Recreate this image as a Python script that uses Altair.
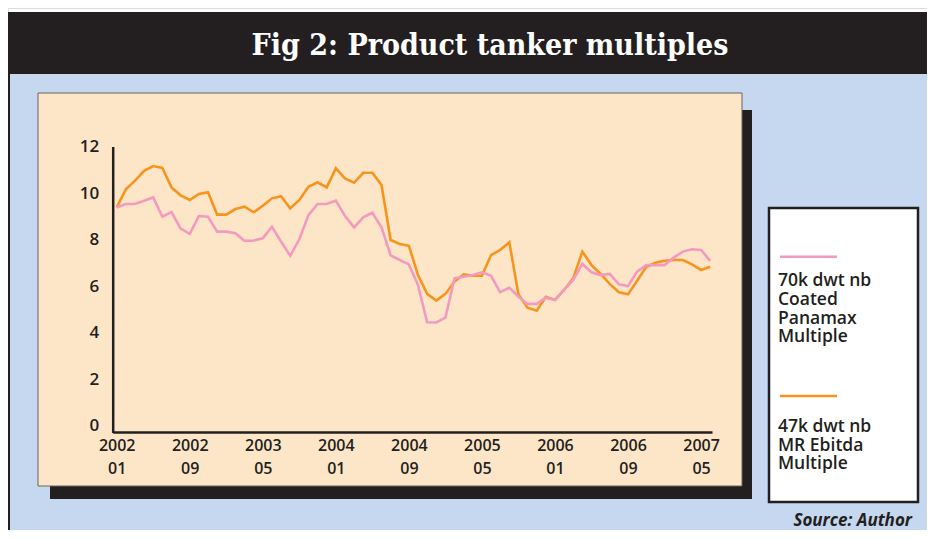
import json
import altair as alt
import pandas as pd

# ---------------- data ----------------
months = [f"{2002 + i // 12}-{i % 12 + 1:02d}" for i in range(66)]  # 2002-01 .. 2007-06

panamax = [9.38, 9.53, 9.53, 9.67, 9.81, 8.98, 9.18, 8.47, 8.24, 9.01,
           8.98, 8.34, 8.34, 8.27, 7.94, 7.96, 8.05, 8.55, 7.91, 7.30,
           8.01, 9.05, 9.53, 9.53, 9.67, 9.01, 8.52, 8.95, 9.15, 8.52,
           7.32, 7.12, 6.93, 6.04, 4.44, 4.43, 4.64, 6.33, 6.40, 6.47,
           6.59, 6.44, 5.73, 5.93, 5.54, 5.23, 5.23, 5.50, 5.40, 5.83,
           6.26, 6.95, 6.59, 6.47, 6.52, 6.07, 6.00, 6.62, 6.90, 6.90,
           6.90, 7.22, 7.48, 7.58, 7.55, 7.08]

mr_ebitda = [9.38, 10.16, 10.53, 10.95, 11.16, 11.08, 10.24, 9.90, 9.70, 9.96,
             10.03, 9.07, 9.07, 9.31, 9.41, 9.17, 9.45, 9.77, 9.86, 9.34,
             9.70, 10.27, 10.46, 10.24, 11.06, 10.63, 10.44, 10.87, 10.87, 10.34,
             7.98, 7.81, 7.73, 6.47, 5.66, 5.37, 5.66, 6.19, 6.50, 6.44,
             6.44, 7.33, 7.55, 7.88, 5.64, 5.07, 4.94, 5.54, 5.40, 5.83,
             6.33, 7.48, 6.90, 6.52, 6.09, 5.73, 5.64, 6.23, 6.83, 7.00,
             7.09, 7.12, 7.12, 6.93, 6.69, 6.83]

series_names = ["70k dwt nb Coated Panamax Multiple", "47k dwt nb MR Ebitda Multiple"]
series_labels = ["70k dwt nb\nCoated\nPanamax\nMultiple", "47k dwt nb\nMR Ebitda\nMultiple"]
series_colors = ["#F49AC1", "#F7941D"]

tick_values = [0, 8, 16, 24, 32, 40, 48, 56, 64]
tick_labels = [["2002", "01"], ["2002", "09"], ["2003", "05"], ["2004", "01"],
               ["2004", "09"], ["2005", "05"], ["2006", "01"], ["2006", "09"],
               ["2007", "05"]]
y_ticks = [0, 2, 4, 6, 8, 10, 12]

title_text = "Fig 2: Product tanker multiples"
source_text = "Source: Author"

# ---------------- tables ----------------
rows = []
for name, vals in zip(series_names, [panamax, mr_ebitda]):
    for i, (m, v) in enumerate(zip(months, vals)):
        rows.append({"idx": i, "month": m, "value": v, "series": name})
df = pd.DataFrame(rows)
legend_df = pd.DataFrame({"series": series_names, "label": series_labels})
dummy = pd.DataFrame({"k": [0]})

DARK = "#231f20"
FONT = "Open Sans"

x_scale = alt.Scale(domain=[-0.44, 65.2], range=[104.7, 704], nice=False, zero=False)
y_scale = alt.Scale(domain=[-0.3, 12], range=[424.5, 138.5], nice=False, zero=False)

label_expr = f"{json.dumps(tick_labels)}[indexof({json.dumps(tick_values)}, datum.value)]"


def box(x, x2, y, y2, fill, **kw):
    return alt.Chart(dummy).mark_rect(fill=fill, **kw).encode(
        x=alt.value(x), x2=alt.value(x2), y=alt.value(y), y2=alt.value(y2))


title_bar = box(0, 919, 4, 66, DARK)
blue_bg = box(0, 919, 66, 522, "#C5D8EF")
left_edge = box(0, 2, 66, 522, DARK)
shadow = box(42, 744, 102, 491, DARK)
panel = box(30, 734, 85, 478, "#FDE6C8", stroke="#6b625a", strokeWidth=1)
legend_box = box(761, 910, 200, 494, "white", stroke=DARK, strokeWidth=2.5)

title = alt.Chart(dummy).mark_text(
    text=title_text, font="DejaVu Serif Condensed", fontWeight="bold", fontSize=30,
    color="white", align="center", baseline="alphabetic"
).encode(x=alt.value(482), y=alt.value(47))

source = alt.Chart(dummy).mark_text(
    text=source_text, font=FONT, fontWeight="bold", fontStyle="italic", fontSize=17,
    color=DARK, align="right", baseline="alphabetic"
).encode(x=alt.value(904), y=alt.value(518))

legend_layers = []
for name, color, ly, ty in zip(series_names, series_colors, [248.7, 388], [278, 423.7]):
    legend_layers.append(
        alt.Chart(legend_df).transform_filter(alt.datum.series == name)
        .mark_rule(color=color, strokeWidth=2.5)
        .encode(x=alt.value(772), x2=alt.value(829), y=alt.value(ly))
    )
    legend_layers.append(
        alt.Chart(legend_df).transform_filter(alt.datum.series == name)
        .mark_text(font=FONT, fontWeight=600, fontSize=17.5, color=DARK, align="left",
                   baseline="alphabetic", lineBreak="\n", lineHeight=18.8)
        .encode(x=alt.value(770), y=alt.value(ty), text="label:N")
    )

x_axis = alt.Axis(values=tick_values, labelExpr=label_expr, title=None, grid=False,
                  ticks=False, tickSize=0, offset=-98, labelPadding=5, labelFlush=False,
                  labelFont=FONT, labelFontWeight=600, labelFontSize=16, labelColor=DARK,
                  labelLineHeight=23, labelBaseline="top",
                  domainColor=DARK, domainWidth=2.5, zindex=1)
y_axis = alt.Axis(values=y_ticks, title=None, grid=False, ticks=False, tickSize=0,
                  offset=-104.7, labelPadding=14, labelFont=FONT, labelFontWeight=600,
                  labelFontSize=17, labelColor=DARK, domainColor=DARK, domainWidth=2.5,
                  zindex=1)

line_layers = []
for name, color in [(series_names[1], series_colors[1]), (series_names[0], series_colors[0])]:
    line_layers.append(
        alt.Chart(df).transform_filter(alt.datum.series == name)
        .mark_line(color=color, strokeWidth=2.6, strokeJoin="miter")
        .encode(x=alt.X("idx:Q", scale=x_scale, axis=x_axis),
                y=alt.Y("value:Q", scale=y_scale, axis=y_axis))
    )

chart = alt.layer(
    title_bar, blue_bg, left_edge, shadow, panel, legend_box,
    *legend_layers, title, source, *line_layers
).properties(
    width=919, height=522, padding=0,
    autosize=alt.AutoSizeParams(type="none")
).configure_view(strokeWidth=0).configure(background="white")

chart.save("out.html", embed_options={"renderer": "svg", "actions": False})
